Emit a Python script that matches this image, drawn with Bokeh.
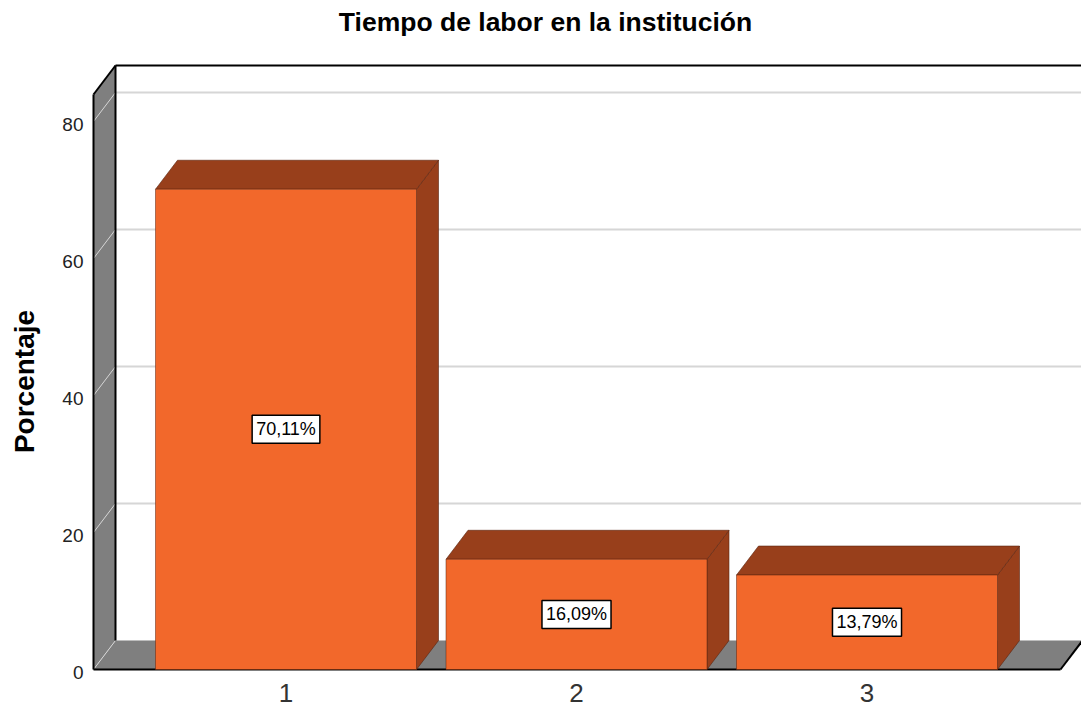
import math
from bokeh.plotting import figure
from bokeh.models import Range1d, Label
from bokeh.core.properties import value
from bokeh.embed import file_html
from bokeh.resources import INLINE

# ---------------- data ----------------
categories = ["1", "2", "3"]
percentages = [70.11, 16.09, 13.79]
bar_labels = ["70,11%", "16,09%", "13,79%"]
y_ticks = [0, 20, 40, 60, 80]
title_text = "Tiempo de labor en la institución"
y_title = "Porcentaje"

# ---------------- layout helpers (pixel -> data) ----------------
PX_CAT1 = 285.5     # page x of category 1
PX_PER_CAT = 290.5  # pixels per category step
PY_ZERO = 669.0     # page y of value 0 on the front plane
PX_PER_UNIT = 6.85  # pixels per percentage unit


def x_of(px):
    return 1 + (px - PX_CAT1) / PX_PER_CAT


def y_of(py):
    return (PY_ZERO - py) / PX_PER_UNIT


ORANGE = "#F2682B"
BROWN = "#983F1B"
GRAY = "#7F7F7F"
GRID = "#D6D6D6"
EDGE = "#5a2410"
FONT = "Liberation Sans"

W, H = 1081, 710

p = figure(width=W, height=H, output_backend="svg", toolbar_location=None,
           x_range=Range1d(x_of(0), x_of(W)),
           y_range=Range1d(y_of(H), y_of(0)),
           min_border_left=0, min_border_right=0, min_border_top=0,
           min_border_bottom=0)
p.xgrid.visible = False
p.ygrid.visible = False
p.axis.visible = False
p.outline_line_color = None
p.background_fill_color = "white"
p.border_fill_color = "white"

# 3-D geometry
DX = 22 / PX_PER_CAT
DY = 29 / PX_PER_UNIT
HW = 130.5 / PX_PER_CAT
X0 = x_of(93)
X1 = x_of(1060)
YTOP = y_of(94)

# back wall
p.quad(left=[X0 + DX], right=[X1 + DX], bottom=[DY], top=[YTOP + DY],
       fill_color="white", line_color=None)
gv = [t for t in y_ticks if t > 0]
p.segment(x0=[X0 + DX] * len(gv), y0=[v + DY for v in gv],
          x1=[X1 + DX] * len(gv), y1=[v + DY for v in gv],
          line_color=GRID, line_width=2)
p.segment(x0=[X1 + DX], y0=[DY], x1=[X1 + DX], y1=[YTOP + DY],
          line_color="#CFCFCF", line_width=1.5)

# left wall
p.patch([X0, X0, X0 + DX, X0 + DX], [0, YTOP, YTOP + DY, DY],
        fill_color=GRAY, line_color=None)
p.segment(x0=[X0] * len(gv), y0=gv, x1=[X0 + DX] * len(gv),
          y1=[v + DY for v in gv], line_color=GRID, line_width=1)

# floor
p.patch([X0, X1, X1 + DX, X0 + DX], [0, 0, DY, DY],
        fill_color=GRAY, line_color=None)
p.segment(x0=[X0], y0=[0], x1=[X0 + DX], y1=[DY], line_color=GRID,
          line_width=1)
p.segment(x0=[X0 + DX], y0=[DY], x1=[X1 + DX], y1=[DY], line_color="#BDBDBD",
          line_width=1)

# black edges
p.segment(x0=[X0, X0, X0 + DX, X0, X1, X0 + DX],
          y0=[0, YTOP, YTOP + DY, 0, 0, DY],
          x1=[X0, X0 + DX, X1 + DX, X1, X1 + DX, X0 + DX],
          y1=[YTOP, YTOP + DY, YTOP + DY, 0, DY, YTOP + DY],
          line_color="black", line_width=2)

# bars
cx = [i + 1 for i in range(len(categories))]
side_x, side_y, top_x, top_y = [], [], [], []
for c, v in zip(cx, percentages):
    l, r = c - HW, c + HW
    side_x.append([r, r, r + DX, r + DX])
    side_y.append([0, v, v + DY, DY])
    top_x.append([l, r, r + DX, l + DX])
    top_y.append([v, v, v + DY, v + DY])
p.patches(side_x, side_y, fill_color=BROWN, line_color=EDGE, line_width=1,
          line_alpha=0.6)
p.patches(top_x, top_y, fill_color=BROWN, line_color=EDGE, line_width=1,
          line_alpha=0.6)
p.quad(left=[c - HW for c in cx], right=[c + HW for c in cx],
       bottom=[0] * len(cx), top=percentages, fill_color=ORANGE,
       line_color=EDGE, line_width=1, line_alpha=0.5)

for c, v, t in zip(cx, percentages, bar_labels):
    p.add_layout(Label(x=c, y=v / 2, text=t, text_align="center",
                       text_baseline="middle", text_font=FONT,
                       text_font_size="18px", text_color="black",
                       background_fill_color="white",
                       border_line_color="black", border_line_width=1.5,
                       padding=4))

# title
p.text(x=[x_of(545)], y=[y_of(21)], text=[title_text],
       text_align="center", text_baseline="middle",
       text_font=value(FONT), text_font_size="26.5px",
       text_font_style="bold", text_color="black")

# y axis title
p.text(x=[x_of(24)], y=[y_of(381)], text=[y_title], angle=math.pi / 2,
       text_align="center", text_baseline="middle",
       text_font=value(FONT), text_font_size="28px",
       text_font_style="bold", text_color="black")

# y tick labels (front plane)
p.text(x=[x_of(83)] * len(y_ticks), y=y_ticks, text=[str(t) for t in y_ticks],
       text_align="right", text_baseline="middle", y_offset=3,
       text_font=value(FONT), text_font_size="19px", text_color="#222222")

# category labels
p.text(x=cx, y=[y_of(692)] * len(cx), text=categories,
       text_align="center", text_baseline="middle",
       text_font=value(FONT), text_font_size="26px", text_color="#333333")

open("out.html", "w").write(file_html(p, INLINE))
